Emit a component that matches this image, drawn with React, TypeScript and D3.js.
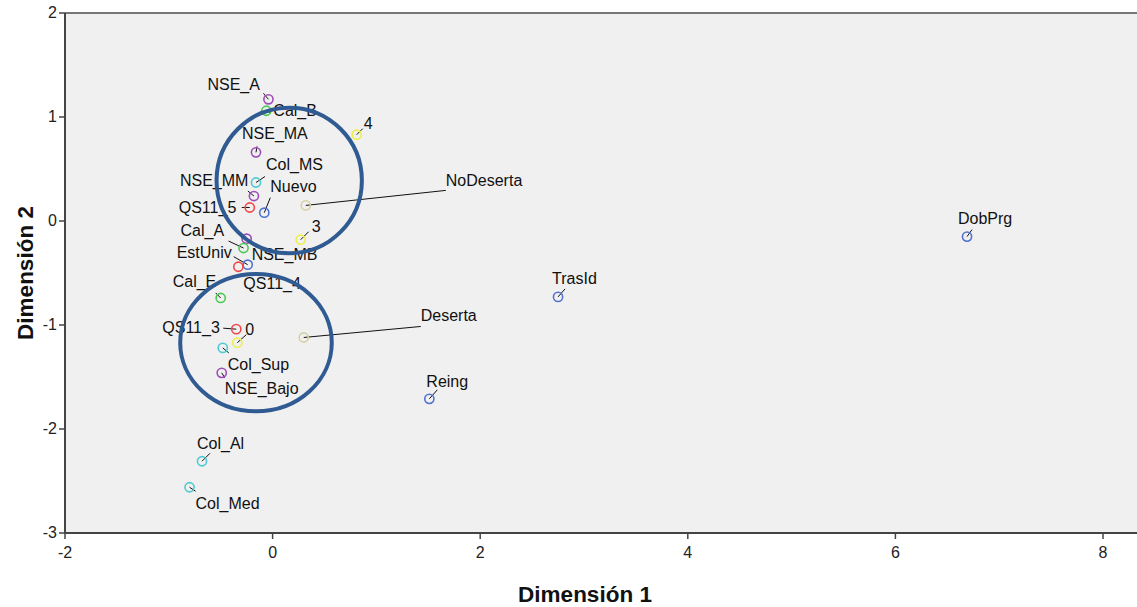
import React from "react";
import * as d3 from "d3";

// ---- Data ----
const categories = [
  "NSE_A", "Cal_B", "4", "NSE_MA", "Col_MS", "NSE_MM", "QS11_5", "Nuevo",
  "NoDeserta", "3", "NSE_MB", "Cal_A", "EstUniv", "QS11_4", "Cal_E", "QS11_3",
  "0", "Col_Sup", "NSE_Bajo", "Deserta", "TrasId", "Reing", "DobPrg", "Col_Al", "Col_Med",
];
const dim1 = [
  -0.04, -0.06, 0.81, -0.16, -0.16, -0.18, -0.22, -0.08,
  0.32, 0.27, -0.25, -0.28, -0.24, -0.33, -0.5, -0.35,
  -0.34, -0.48, -0.49, 0.3, 2.75, 1.51, 6.69, -0.68, -0.8,
];
const dim2 = [
  1.17, 1.06, 0.83, 0.66, 0.37, 0.24, 0.13, 0.08,
  0.15, -0.18, -0.17, -0.26, -0.42, -0.44, -0.74, -1.04,
  -1.17, -1.22, -1.46, -1.12, -0.73, -1.71, -0.15, -2.31, -2.56,
];
const variables = [
  "NSE", "Cal", "Nivel", "NSE", "Col", "NSE", "QS11", "Estado",
  "Desercion", "Nivel", "NSE", "Cal", "Estado", "QS11", "Cal", "QS11",
  "Nivel", "Col", "NSE", "Desercion", "Estado", "Estado", "Estado", "Col", "Col",
];
const xTicks = [-2, 0, 2, 4, 6, 8];
const yTicks = [-3, -2, -1, 0, 1, 2];
// highlighted groups (centre x, centre y, radius x, radius y) in data units
const groupCx = [0.16, -0.16];
const groupCy = [0.39, -1.17];
const groupRx = [0.7, 0.73];
const groupRy = [0.7, 0.66];

// ---- Styles / layout ----
const W = 1137;
const H = 607;
const FONT = "'Liberation Sans', Arial, Helvetica, sans-serif";
const colorOf: Record<string, string> = {
  NSE: "#a04cb8",
  Cal: "#4cc854",
  Nivel: "#eeee4c",
  Col: "#4ccbd2",
  QS11: "#f04848",
  Estado: "#5272d2",
  Desercion: "#d6d2a2",
};
// label placement in pixels relative to the point: [textDx, textDy(baseline), leaderDx, leaderDy]
const labelLayout: Record<string, [number, number, number, number]> = {
  NSE_A: [-61, -9, -5, -6],
  Cal_B: [7, 5, 4, 2],
  "4": [7, -6, 6, -6],
  NSE_MA: [-14, -13, 1, -6],
  Col_MS: [10, -13, 9, -6],
  NSE_MM: [-74, -10, -6, -5],
  QS11_5: [-71, 6, -8, 0],
  Nuevo: [6, -21, 6, -15],
  NoDeserta: [140, -19, 140, -15],
  "3": [11, -8, 8, -8],
  NSE_MB: [5, 21, 0, 0],
  Cal_A: [-63, -12, -15, -7],
  EstUniv: [-71, -7, -14, -8],
  QS11_4: [5, 22, 0, 0],
  Cal_E: [-48, -11, -5, -5],
  QS11_3: [-74, 4, -13, -1],
  "0": [8, -8, 9, -8],
  Col_Sup: [5, 22, 6, 5],
  NSE_Bajo: [3, 21, 3, 5],
  Deserta: [117, -16, 117, -11],
  TrasId: [-6, -13, 7, -8],
  Reing: [-3, -12, 8, -9],
  DobPrg: [-9, -13, 5, -7],
  Col_Al: [-5, -12, 8, -8],
  Col_Med: [6, 22, 6, 4],
};

const plotLeft = 65;
const plotTop = 13;
const plotBottom = 533;
const plotRight = W;

export default function App() {
  const x = d3.scaleLinear().domain([-2, 8]).range([65, 1103]);
  const y = d3.scaleLinear().domain([-3, 2]).range([plotBottom, plotTop]);

  const points = categories.map((c, i) => ({
    label: c,
    px: x(dim1[i]),
    py: y(dim2[i]),
    color: colorOf[variables[i]],
  }));

  return (
    <svg
      width={W}
      height={H}
      style={{ position: "absolute", left: 0, top: 0, background: "#ffffff" }}
      fontFamily={FONT}
    >
      <rect
        x={plotLeft}
        y={plotTop}
        width={plotRight - plotLeft}
        height={plotBottom - plotTop}
        fill="#f0f0f0"
      />
      {/* frame lines */}
      <line x1={plotLeft} x2={plotRight} y1={plotTop} y2={plotTop} stroke="#777" strokeWidth={2} />
      <line x1={plotLeft} x2={plotRight} y1={plotBottom} y2={plotBottom} stroke="#444" strokeWidth={2} />
      <line x1={plotLeft} x2={plotLeft} y1={plotTop} y2={plotBottom} stroke="#444" strokeWidth={2} />

      {/* y axis ticks */}
      {yTicks.map((t) => (
        <g key={"y" + t}>
          <line x1={plotLeft - 6} x2={plotLeft} y1={y(t)} y2={y(t)} stroke="#444" strokeWidth={1.5} />
          <text x={plotLeft - 8} y={y(t) + 5} textAnchor="end" fontSize={16} fill="#222">
            {t}
          </text>
        </g>
      ))}
      {/* x axis ticks */}
      {xTicks.map((t) => (
        <g key={"x" + t}>
          <line x1={x(t)} x2={x(t)} y1={plotBottom} y2={plotBottom + 6} stroke="#444" strokeWidth={1.5} />
          <text x={x(t)} y={plotBottom + 25} textAnchor="middle" fontSize={16} fill="#222">
            {t}
          </text>
        </g>
      ))}

      {/* axis titles */}
      <text x={585} y={602} textAnchor="middle" fontSize={22.5} fontWeight="bold" fill="#111">
        Dimensión 1
      </text>
      <text
        transform={`translate(33, 273) rotate(-90)`}
        textAnchor="middle"
        fontSize={22.5}
        fontWeight="bold"
        fill="#111"
      >
        Dimensión 2
      </text>

      {/* leader lines */}
      {points.map((p) => {
        const l = labelLayout[p.label];
        if (!l || (l[2] === 0 && l[3] === 0)) return null;
        return (
          <line
            key={"l" + p.label}
            x1={p.px}
            y1={p.py}
            x2={p.px + l[2]}
            y2={p.py + l[3]}
            stroke="#111"
            strokeWidth={1}
          />
        );
      })}

      {/* markers */}
      {points.map((p) => (
        <circle
          key={"c" + p.label}
          cx={p.px}
          cy={p.py}
          r={4.6}
          fill="none"
          stroke={p.color}
          strokeWidth={1.6}
        />
      ))}

      {/* labels */}
      {points.map((p) => {
        const l = labelLayout[p.label];
        return (
          <text key={"t" + p.label} x={p.px + l[0]} y={p.py + l[1]} fontSize={16} fill="#111">
            {p.label}
          </text>
        );
      })}

      {/* highlight rings */}
      {groupCx.map((cx, i) => (
        <ellipse
          key={"g" + i}
          cx={x(cx)}
          cy={y(groupCy[i])}
          rx={x(cx + groupRx[i]) - x(cx)}
          ry={y(groupCy[i] - groupRy[i]) - y(groupCy[i])}
          fill="none"
          stroke="#2f5b92"
          strokeWidth={4}
        />
      ))}
    </svg>
  );
}
